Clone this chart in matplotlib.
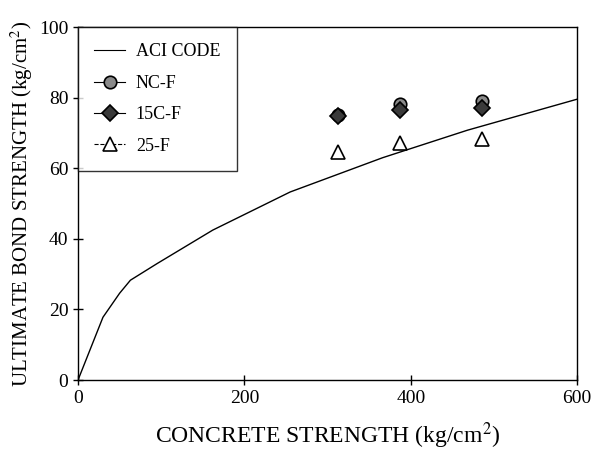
import matplotlib
matplotlib.use("Agg")
import matplotlib.pyplot as plt
from matplotlib.lines import Line2D

# ACI code curve
aci_x = [0, 30, 50, 63, 95, 162, 255, 366, 468, 600]
aci_y = [0, 17.8, 24.6, 28.3, 33.0, 42.5, 53.3, 63.0, 70.8, 79.6]

# test points
nc_x = [312, 387, 486]
nc_y = [75.1, 78.2, 79.0]
c15_x = [312, 387, 486]
c15_y = [74.8, 76.5, 77.1]
f25_x = [312, 387, 486]
f25_y = [64.6, 67.1, 68.3]

xticks = [0, 200, 400, 600]
yticks = [0, 20, 40, 60, 80, 100]

plt.rcParams['font.family'] = ['Liberation Serif', 'DejaVu Serif']
plt.rcParams['mathtext.fontset'] = 'stix'

fig = plt.figure(figsize=(6.0, 4.53), dpi=100)
ax = fig.add_axes([0.13, 0.161, 0.832, 0.779])

ax.plot(aci_x, aci_y, color='black', lw=1.0)
ax.plot(nc_x, nc_y, ls='none', marker='o', ms=9, mfc='#8a8a8a', mec='black', mew=1.2)
ax.plot(c15_x, c15_y, ls='none', marker='D', ms=8, mfc='#3a3a3a', mec='black', mew=1.2)
ax.plot(f25_x, f25_y, ls='none', marker='^', ms=10, mfc='white', mec='black', mew=1.2)

ax.set_xlim(0, 600)
ax.set_ylim(0, 100)
ax.set_xticks(xticks)
ax.set_yticks(yticks)
ax.tick_params(direction='inout', length=7, width=1, labelsize=14, top=False, right=False)
for s in ax.spines.values():
    s.set_linewidth(1.0)

ax.set_xlabel('CONCRETE STRENGTH (kg/cm$^{2}$)', fontsize=17, labelpad=10)
ax.set_ylabel('ULTIMATE BOND STRENGTH (kg/cm$^{2}$)', fontsize=15, labelpad=3)

handles = [
    Line2D([], [], color='black', lw=0.8),
    Line2D([], [], color='black', lw=0.8, marker='o', ms=9, mfc='#8a8a8a', mec='black', mew=1.2),
    Line2D([], [], color='black', lw=0.8, marker='D', ms=8, mfc='#3a3a3a', mec='black', mew=1.2),
    Line2D([], [], color='black', lw=0.8, ls='--', marker='^', ms=10, mfc='white', mec='black', mew=1.2),
]
labels = ['ACI CODE', 'NC-F', '15C-F', '25-F']
leg = ax.legend(handles, labels, loc='upper left', borderaxespad=0.0, fontsize=13,
                frameon=True, fancybox=False, handlelength=1.7, labelspacing=0.8,
                borderpad=0.9, handletextpad=0.6)
leg.get_frame().set_edgecolor('black')
leg.get_frame().set_linewidth(1.0)

fig.savefig('out.png', dpi=100)
